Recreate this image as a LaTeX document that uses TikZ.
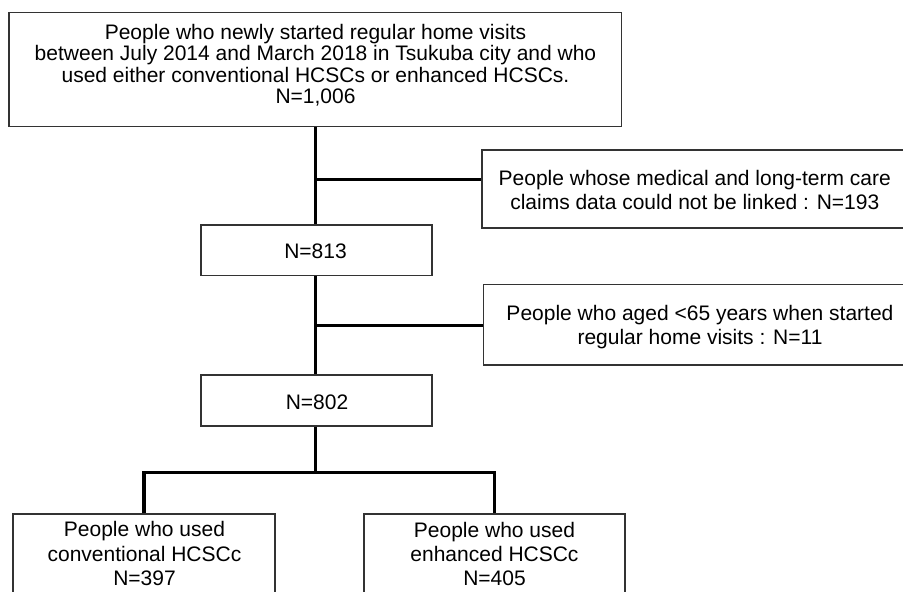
\documentclass[tikz,border=0pt]{standalone}
\usepackage{fontspec}
\setmainfont{Liberation Sans}
\tikzset{
  box/.style={draw=black!80, line width=1.1pt, inner sep=0pt},
  txt/.style={align=center, inner sep=0pt, anchor=north, text=black,
              font=\fontsize{21}{24.3}\selectfont},
  link/.style={line width=3.2pt, draw=black},
}
\begin{document}
\begin{tikzpicture}[x=1pt, y=-1pt]
\useasboundingbox (0,0) rectangle (903,592);
\clip (0,0) rectangle (903,592);

% boxes
\node[box, minimum width=612.7pt, minimum height=114pt] (top) at (315.35,69.7) {};
\node[box, minimum width=231pt, minimum height=50.5pt] (n813) at (316.5,250.25) {};
\node[box, minimum width=231pt, minimum height=51pt] (n802) at (316.5,400.5) {};
\node[box, minimum width=425.6pt, minimum height=78pt] (ex1) at (694.8,189) {};
\node[box, minimum width=433.4pt, minimum height=80.7pt] (ex2) at (700,324.65) {};
\node[box, minimum width=262pt, minimum height=106pt] (bl) at (144,567) {};
\node[box, minimum width=261pt, minimum height=106pt] (br) at (494.5,567) {};

% texts
\node[txt, font=\fontsize{21}{21.3}\selectfont] (ttop) at (315.5,23.3)
  {\rule{0pt}{16pt}People who newly started regular home visits\\
   between July 2014 and March 2018 in Tsukuba city and who\\
   used either conventional HCSCs or enhanced HCSCs.\\
   N=1,006};
\node[txt] (t813) at (315.5,242.3) {\rule{0pt}{16pt}N=813};
\node[txt] (t802) at (317,393) {\rule{0pt}{16pt}N=802};
\node[txt] (tex1) at (694.8,169) {\rule{0pt}{16pt}People whose medical and long-term care\\
   claims data could not be linked : N=193};
\node[txt] (tex2) at (700,304) {\rule{0pt}{16pt}People who aged <65 years when started\\
   regular home visits : N=11};
\node[txt] (tbl) at (144.5,520.7) {\rule{0pt}{16pt}People who used\\ conventional HCSCc\\ N=397};
\node[txt] (tbr) at (494.5,521) {\rule{0pt}{16pt}People who used\\ enhanced HCSCc\\ N=405};

% junctions
\coordinate (j1) at (315.35,179.5);
\coordinate (j2) at (315.35,325.5);
\coordinate (split) at (315.35,472.7);

% connectors
\draw[link] (top.south) -- (top.south |- n813.north);
\draw[link] (j1) -- (j1 -| ex1.west);
\draw[link] (n813.south -| top.south) -- (n802.north -| top.south);
\draw[link] (j2) -- (j2 -| ex2.west);
\draw[link] (n802.south -| top.south) -- (split);
\draw[link] (bl.north) -- (bl.north |- split) -- (br.north |- split) -- (br.north);
\end{tikzpicture}
\end{document}
